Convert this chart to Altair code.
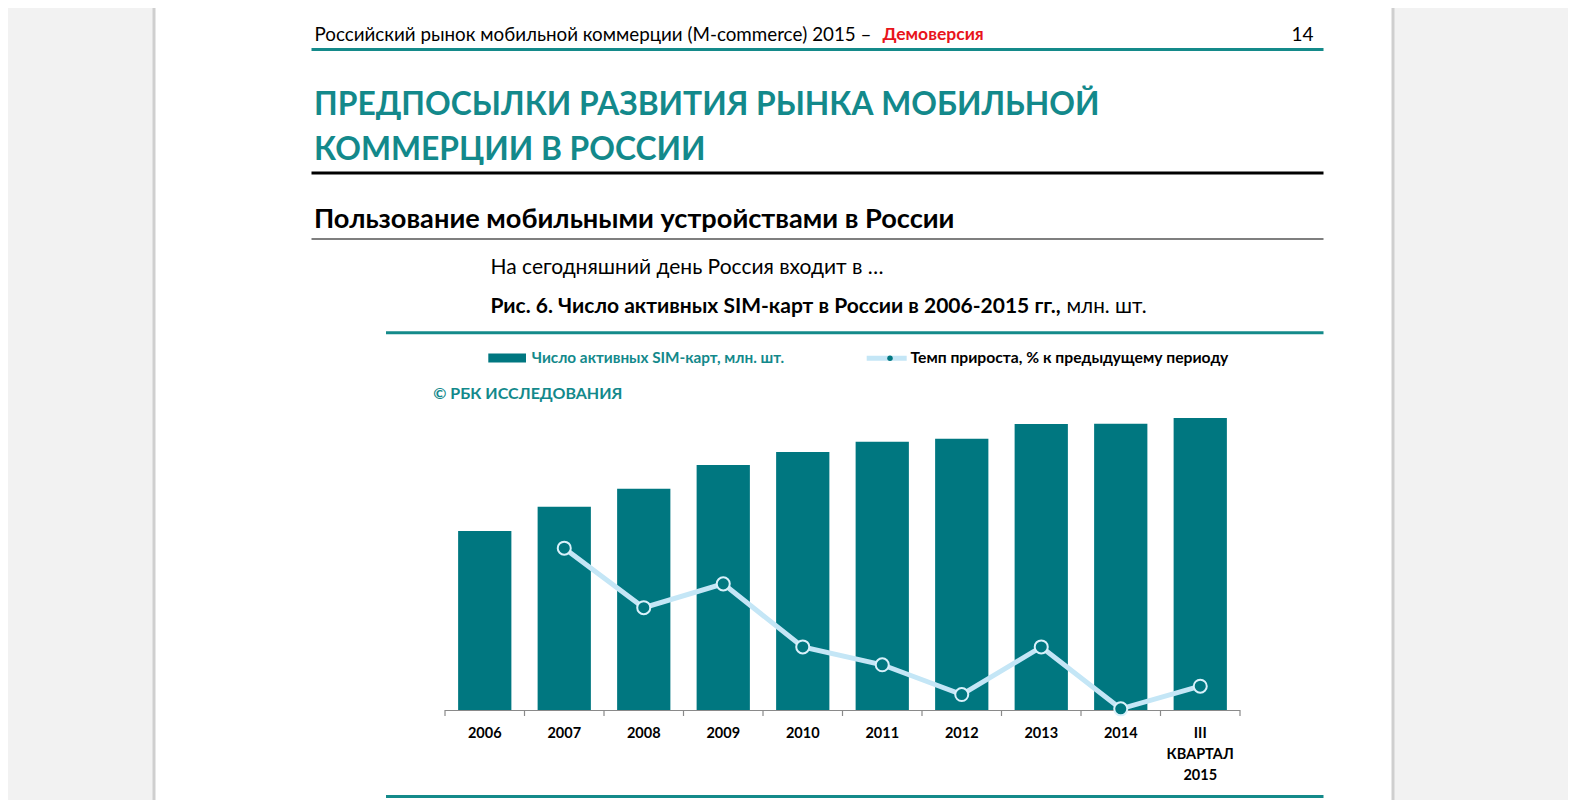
import altair as alt
import pandas as pd

# ---- data ----
categories = ["2006", "2007", "2008", "2009", "2010", "2011", "2012", "2013", "2014", "III|КВАРТАЛ|2015"]
sim_cards = [152.4, 173.1, 188.4, 208.6, 219.7, 228.4, 231.0, 243.5, 243.8, 248.6]  # млн. шт.
growth_categories = categories[1:]
growth_pct = [13.6, 8.6, 10.6, 5.3, 3.8, 1.3, 5.3, 0.1, 2.0]  # % к предыдущему периоду

W, H = 1560, 792
FONT = "Lato"
TEAL_BAR = "#007780"
TEAL_TXT = "#13898b"
LIGHT = "#c4e6f6"
BASE_Y = 702
X0, X1 = 437, 1232
P_IN, P_OUT = 0.33, 0.165
STEP = (X1 - X0) / (len(categories) - P_IN + 2 * P_OUT)

bars_df = pd.DataFrame({"cat": categories, "sims": sim_cards})
growth_df = pd.DataFrame({"cat": growth_categories, "g": growth_pct})
one = pd.DataFrame({"k": [0]})

x_scale = alt.Scale(domain=categories, range=[X0, X1], paddingInner=P_IN, paddingOuter=P_OUT)
gx = alt.X("cat:N", scale=x_scale, axis=None, sort=categories)


def txt(s, x, y, size, color="#000000", weight="normal", align="left", font=FONT):
    return alt.Chart(one).mark_text(text=s, align=align, baseline="middle", fontSize=size,
                                    fontWeight=weight, color=color, font=font).encode(
        x=alt.value(x), y=alt.value(y))


def hline(x1, x2, y, color, width):
    return alt.Chart(one).mark_rule(color=color, strokeWidth=width).encode(
        x=alt.value(x1), x2=alt.value(x2), y=alt.value(y))


page = alt.Chart(one).mark_rect(fill="#ffffff", stroke="#cfcfcf", strokeWidth=3).encode(
    x=alt.value(146), x2=alt.value(1385), y=alt.value(-10), y2=alt.value(H + 10))

decor = [
    page,
    txt("Российский рынок мобильной коммерции (M-commerce) 2015 –", 306.5, 26.5, 18.8),
    txt("Демоверсия", 874.5, 26.5, 17.5, color="#e8141b", weight="bold"),
    txt("14", 1305.5, 26.5, 19, align="right"),
    hline(303.5, 1315.5, 41.5, "#148a8a", 3),
    txt("ПРЕДПОСЫЛКИ РАЗВИТИЯ РЫНКА МОБИЛЬНОЙ", 306, 96.5, 31.8, color=TEAL_TXT, weight="bold"),
    txt("КОММЕРЦИИ В РОССИИ", 306, 141.5, 31.8, color=TEAL_TXT, weight="bold"),
    hline(303.5, 1315.5, 165, "#000000", 3),
    txt("Пользование мобильными устройствами в России", 306, 212, 27.2, weight="bold"),
    hline(303.5, 1315.5, 231, "#000000", 1.2),
    txt("На сегодняшний день Россия входит в …", 482.5, 259.5, 21),
    txt("Рис. 6. Число активных SIM-карт в России в 2006-2015 гг.,", 482.5, 298.5, 21, weight="bold"),
    txt("млн. шт.", 1058.5, 298.5, 20.7),
    hline(378, 1315.5, 324.7, "#148a8a", 3),
    hline(378, 1315.5, 788.5, "#148a8a", 3),
    # legend
    alt.Chart(one).mark_rect(color=TEAL_BAR).encode(
        x=alt.value(480.3), x2=alt.value(518), y=alt.value(345.5), y2=alt.value(354.5)),
    txt("Число активных SIM-карт, млн. шт.", 523.7, 350.3, 15.3, color=TEAL_TXT, weight="bold"),
    hline(858.7, 898.7, 350.3, LIGHT, 5),
    alt.Chart(one).mark_point(filled=True, size=30, color=TEAL_BAR, opacity=1).encode(
        x=alt.value(882), y=alt.value(350.3)),
    txt("Темп прироста, % к предыдущему периоду", 902.5, 350.3, 15.7, weight="bold"),
    txt("© РБК ИССЛЕДОВАНИЯ", 425.3, 386, 16, color=TEAL_TXT, weight="bold"),
]

bars = alt.Chart(bars_df).mark_bar(color=TEAL_BAR).encode(
    x=gx,
    y=alt.Y("sims:Q", scale=alt.Scale(domain=[0, 260], range=[BASE_Y, BASE_Y - 260 * 1.1745]), axis=None),
)

# category axis: baseline, boundary ticks and labels drawn through the band scale
axis_line = hline(X0, X1, BASE_Y + 0.5, "#8a8a8a", 1.2)
ticks = alt.Chart(bars_df).mark_rule(color="#8a8a8a", strokeWidth=1.2,
                                     xOffset=-STEP * P_IN / 2, x2Offset=-STEP * P_IN / 2).encode(
    x=alt.X("cat:N", scale=x_scale, axis=None, sort=categories, bandPosition=0),
    y=alt.value(BASE_Y), y2=alt.value(BASE_Y + 6))
end_tick = alt.Chart(one).mark_rule(color="#8a8a8a", strokeWidth=1.2).encode(
    x=alt.value(X1), y=alt.value(BASE_Y), y2=alt.value(BASE_Y + 6))
labels = alt.Chart(bars_df).mark_text(baseline="top", align="center", font=FONT, fontSize=14.5,
                                      fontWeight="bold", color="#000000", lineBreak="|",
                                      lineHeight=21).encode(
    x=gx, y=alt.value(718.5), text="cat:N")

gy = alt.Y("g:Q", scale=alt.Scale(domain=[0, 15], range=[BASE_Y, BASE_Y - 15 * 11.9]), axis=None)
line = alt.Chart(growth_df).mark_line(color=LIGHT, strokeWidth=5).encode(x=gx, y=gy)
pts = alt.Chart(growth_df).mark_point(filled=True, size=170, fill=TEAL_BAR, stroke="#d9f1fb",
                                      strokeWidth=2, opacity=1).encode(x=gx, y=gy)

chart = alt.layer(*decor, bars, axis_line, ticks, end_tick, labels, line, pts).resolve_scale(
    y="independent").properties(
    width=W, height=H, autosize=alt.AutoSizeParams(type="none"), padding=0
).configure(background="#f2f2f2").configure_view(stroke=None)

chart.save("out.html", embed_options={"renderer": "svg", "actions": False})
